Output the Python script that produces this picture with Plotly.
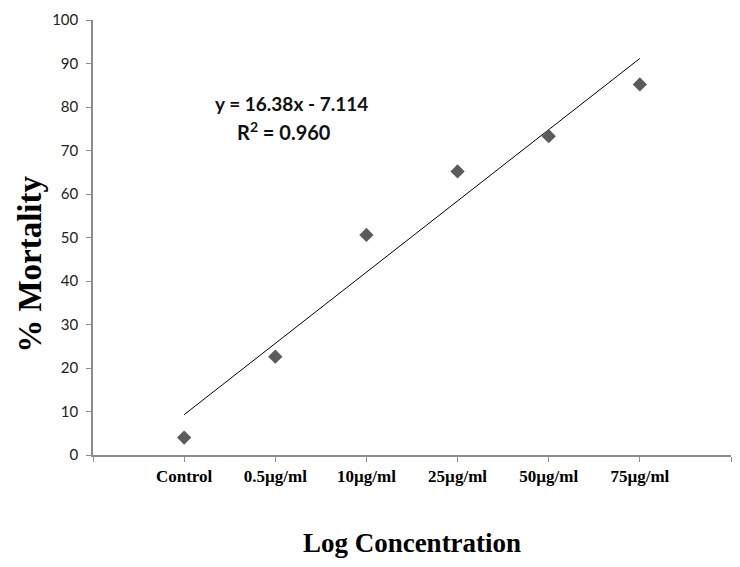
import plotly.graph_objects as go

categories = ["Control", "0.5µg/ml", "10µg/ml", "25µg/ml", "50µg/ml", "75µg/ml"]
x_pos = [1, 2, 3, 4, 5, 6]
mortality = [4.0, 22.6, 50.6, 65.2, 73.3, 85.2]
slope = 16.38
intercept = -7.114
r2 = 0.960

trend_x = [x_pos[0], x_pos[-1]]
trend_y = [slope * v + intercept for v in trend_x]

fig = go.Figure()
fig.add_trace(go.Scatter(x=trend_x, y=trend_y, mode="lines",
                         line=dict(color="black", width=1), showlegend=False))
fig.add_trace(go.Scatter(x=x_pos, y=mortality, mode="markers",
                         marker=dict(symbol="diamond", size=11, color="#5b5b5b"),
                         showlegend=False))

eq_font = dict(family="Lato", size=19, color="#111", weight="bold")
fig.add_annotation(x=2.18, y=80.9, xref="x", yref="y",
                   text=f"y = {slope}x - {abs(intercept)}",
                   showarrow=False, font=eq_font)
fig.add_annotation(x=2.1, y=74.4, xref="x", yref="y",
                   text=f"R<sup>2</sup> = {r2:.3f}",
                   showarrow=False, font=dict(family="Lato", size=20, color="#111", weight="bold"))

# y-axis title placed as rotated annotation (sits a bit below the axis centre)
fig.add_annotation(x=-0.099, y=0.439, xref="paper", yref="paper",
                   xanchor="center", yanchor="middle", textangle=-90,
                   text="% Mortality", showarrow=False,
                   font=dict(family="Liberation Serif", size=33, color="black", weight="bold"))

fig.update_layout(
    width=740, height=567,
    margin=dict(l=85, r=17, t=12, b=120),
    plot_bgcolor="white", paper_bgcolor="white",
    xaxis=dict(range=[0, 7], tickmode="array", tickvals=x_pos,
               ticktext=categories, automargin=False,
               showgrid=False, zeroline=False, showline=True, linecolor="#8c8c8c",
               linewidth=1.5, ticks="outside", ticklen=5, tickcolor="#8c8c8c",
               minor=dict(tick0=0, dtick=1, ticks="outside", ticklen=5,
                          tickcolor="#8c8c8c", showgrid=False),
               tickfont=dict(family="Liberation Serif", size=17, color="black", weight="bold"),
               title=dict(text="Log Concentration", standoff=48,
                          font=dict(family="Liberation Serif", size=27, color="black", weight="bold"))),
    yaxis=dict(range=[0, 100], tickmode="array", tickvals=list(range(0, 101, 10)),
               showgrid=False, zeroline=False, showline=True, linecolor="#8c8c8c",
               linewidth=1.5, ticks="outside", ticklen=5, tickcolor="#8c8c8c",
               automargin=False, ticklabelstandoff=5,
               tickfont=dict(family="Lato", size=15, color="#222")),
)

fig.write_html("out.html")
